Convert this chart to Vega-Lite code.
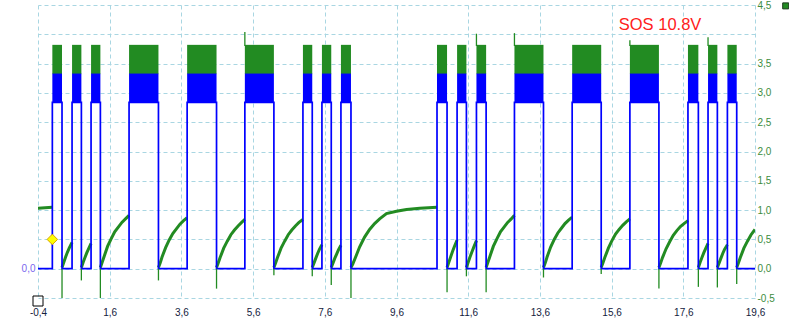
{
  "$schema": "https://vega.github.io/schema/vega-lite/v6.json",
  "width": 717,
  "height": 293,
  "autosize": {"type": "none"},
  "padding": {"left": 38, "top": 5, "right": 34, "bottom": 34},
  "background": "white",
  "config": {
    "view": {"stroke": null},
    "axis": {"domain": false, "ticks": false, "tickSize": 0, "labelFlush": false, "labelOverlap": false, "labelFont": "Liberation Sans", "labelFontSize": 10, "gridColor": "#a9d6e2", "gridDash": [4, 3], "gridWidth": 1}
  },
  "datasets": {
    "pulses": [
      {"on": 0.0, "off": 0.27}, {"on": 0.55, "off": 0.81}, {"on": 1.08, "off": 1.34},
      {"on": 2.14, "off": 2.96}, {"on": 3.76, "off": 4.58}, {"on": 5.37, "off": 6.18},
      {"on": 6.99, "off": 7.25}, {"on": 7.52, "off": 7.78}, {"on": 8.05, "off": 8.33},
      {"on": 10.73, "off": 11.01}, {"on": 11.29, "off": 11.55}, {"on": 11.83, "off": 12.10},
      {"on": 12.89, "off": 13.70}, {"on": 14.50, "off": 15.31}, {"on": 16.11, "off": 16.92},
      {"on": 17.73, "off": 18.02}, {"on": 18.29, "off": 18.55}, {"on": 18.83, "off": 19.09}
    ],
    "blue": [
      {"i": 0, "t": -0.4, "v": 0},
      {"i": 1, "t": 0.0, "v": 0}, {"i": 2, "t": 0.0, "v": 2.84}, {"i": 3, "t": 0.27, "v": 2.84}, {"i": 4, "t": 0.27, "v": 0},
      {"i": 5, "t": 0.55, "v": 0}, {"i": 6, "t": 0.55, "v": 2.84}, {"i": 7, "t": 0.81, "v": 2.84}, {"i": 8, "t": 0.81, "v": 0},
      {"i": 9, "t": 1.08, "v": 0}, {"i": 10, "t": 1.08, "v": 2.84}, {"i": 11, "t": 1.34, "v": 2.84}, {"i": 12, "t": 1.34, "v": 0},
      {"i": 13, "t": 2.14, "v": 0}, {"i": 14, "t": 2.14, "v": 2.84}, {"i": 15, "t": 2.96, "v": 2.84}, {"i": 16, "t": 2.96, "v": 0},
      {"i": 17, "t": 3.76, "v": 0}, {"i": 18, "t": 3.76, "v": 2.84}, {"i": 19, "t": 4.58, "v": 2.84}, {"i": 20, "t": 4.58, "v": 0},
      {"i": 21, "t": 5.37, "v": 0}, {"i": 22, "t": 5.37, "v": 2.84}, {"i": 23, "t": 6.18, "v": 2.84}, {"i": 24, "t": 6.18, "v": 0},
      {"i": 25, "t": 6.99, "v": 0}, {"i": 26, "t": 6.99, "v": 2.84}, {"i": 27, "t": 7.25, "v": 2.84}, {"i": 28, "t": 7.25, "v": 0},
      {"i": 29, "t": 7.52, "v": 0}, {"i": 30, "t": 7.52, "v": 2.84}, {"i": 31, "t": 7.78, "v": 2.84}, {"i": 32, "t": 7.78, "v": 0},
      {"i": 33, "t": 8.05, "v": 0}, {"i": 34, "t": 8.05, "v": 2.84}, {"i": 35, "t": 8.33, "v": 2.84}, {"i": 36, "t": 8.33, "v": 0},
      {"i": 37, "t": 10.73, "v": 0}, {"i": 38, "t": 10.73, "v": 2.84}, {"i": 39, "t": 11.01, "v": 2.84}, {"i": 40, "t": 11.01, "v": 0},
      {"i": 41, "t": 11.29, "v": 0}, {"i": 42, "t": 11.29, "v": 2.84}, {"i": 43, "t": 11.55, "v": 2.84}, {"i": 44, "t": 11.55, "v": 0},
      {"i": 45, "t": 11.83, "v": 0}, {"i": 46, "t": 11.83, "v": 2.84}, {"i": 47, "t": 12.10, "v": 2.84}, {"i": 48, "t": 12.10, "v": 0},
      {"i": 49, "t": 12.89, "v": 0}, {"i": 50, "t": 12.89, "v": 2.84}, {"i": 51, "t": 13.70, "v": 2.84}, {"i": 52, "t": 13.70, "v": 0},
      {"i": 53, "t": 14.50, "v": 0}, {"i": 54, "t": 14.50, "v": 2.84}, {"i": 55, "t": 15.31, "v": 2.84}, {"i": 56, "t": 15.31, "v": 0},
      {"i": 57, "t": 16.11, "v": 0}, {"i": 58, "t": 16.11, "v": 2.84}, {"i": 59, "t": 16.92, "v": 2.84}, {"i": 60, "t": 16.92, "v": 0},
      {"i": 61, "t": 17.73, "v": 0}, {"i": 62, "t": 17.73, "v": 2.84}, {"i": 63, "t": 18.02, "v": 2.84}, {"i": 64, "t": 18.02, "v": 0},
      {"i": 65, "t": 18.29, "v": 0}, {"i": 66, "t": 18.29, "v": 2.84}, {"i": 67, "t": 18.55, "v": 2.84}, {"i": 68, "t": 18.55, "v": 0},
      {"i": 69, "t": 18.83, "v": 0}, {"i": 70, "t": 18.83, "v": 2.84}, {"i": 71, "t": 19.09, "v": 2.84}, {"i": 72, "t": 19.09, "v": 0},
      {"i": 73, "t": 19.6, "v": 0}
    ],
    "green": [
      {"s": 0, "t": -0.4, "v": 1.03}, {"s": 0, "t": -0.2, "v": 1.04}, {"s": 0, "t": 0.0, "v": 1.05},
      {"s": 1, "t": 0.27, "v": 0.02}, {"s": 1, "t": 0.32, "v": 0.11}, {"s": 1, "t": 0.37, "v": 0.2}, {"s": 1, "t": 0.42, "v": 0.28}, {"s": 1, "t": 0.47, "v": 0.35}, {"s": 1, "t": 0.55, "v": 0.45},
      {"s": 2, "t": 0.81, "v": 0.02}, {"s": 2, "t": 0.86, "v": 0.11}, {"s": 2, "t": 0.91, "v": 0.19}, {"s": 2, "t": 0.96, "v": 0.27}, {"s": 2, "t": 1.01, "v": 0.34}, {"s": 2, "t": 1.08, "v": 0.43},
      {"s": 3, "t": 1.34, "v": 0.02}, {"s": 3, "t": 1.39, "v": 0.11}, {"s": 3, "t": 1.44, "v": 0.2}, {"s": 3, "t": 1.54, "v": 0.38}, {"s": 3, "t": 1.64, "v": 0.51}, {"s": 3, "t": 1.74, "v": 0.63}, {"s": 3, "t": 1.84, "v": 0.71}, {"s": 3, "t": 1.94, "v": 0.79}, {"s": 3, "t": 2.04, "v": 0.85}, {"s": 3, "t": 2.14, "v": 0.91},
      {"s": 4, "t": 2.96, "v": 0.02}, {"s": 4, "t": 3.01, "v": 0.10}, {"s": 4, "t": 3.06, "v": 0.2}, {"s": 4, "t": 3.16, "v": 0.36}, {"s": 4, "t": 3.26, "v": 0.49}, {"s": 4, "t": 3.36, "v": 0.6}, {"s": 4, "t": 3.46, "v": 0.68}, {"s": 4, "t": 3.56, "v": 0.76}, {"s": 4, "t": 3.66, "v": 0.82}, {"s": 4, "t": 3.76, "v": 0.87},
      {"s": 5, "t": 4.58, "v": 0.02}, {"s": 5, "t": 4.63, "v": 0.10}, {"s": 5, "t": 4.68, "v": 0.19}, {"s": 5, "t": 4.78, "v": 0.35}, {"s": 5, "t": 4.88, "v": 0.47}, {"s": 5, "t": 4.98, "v": 0.58}, {"s": 5, "t": 5.08, "v": 0.66}, {"s": 5, "t": 5.18, "v": 0.73}, {"s": 5, "t": 5.28, "v": 0.79}, {"s": 5, "t": 5.37, "v": 0.84},
      {"s": 6, "t": 6.18, "v": 0.02}, {"s": 6, "t": 6.23, "v": 0.10}, {"s": 6, "t": 6.28, "v": 0.19}, {"s": 6, "t": 6.38, "v": 0.35}, {"s": 6, "t": 6.48, "v": 0.47}, {"s": 6, "t": 6.58, "v": 0.58}, {"s": 6, "t": 6.68, "v": 0.66}, {"s": 6, "t": 6.78, "v": 0.73}, {"s": 6, "t": 6.88, "v": 0.79}, {"s": 6, "t": 6.99, "v": 0.84},
      {"s": 7, "t": 7.25, "v": 0.02}, {"s": 7, "t": 7.30, "v": 0.10}, {"s": 7, "t": 7.35, "v": 0.18}, {"s": 7, "t": 7.40, "v": 0.26}, {"s": 7, "t": 7.45, "v": 0.33}, {"s": 7, "t": 7.52, "v": 0.41},
      {"s": 8, "t": 7.78, "v": 0.02}, {"s": 8, "t": 7.83, "v": 0.10}, {"s": 8, "t": 7.88, "v": 0.18}, {"s": 8, "t": 7.93, "v": 0.25}, {"s": 8, "t": 7.98, "v": 0.32}, {"s": 8, "t": 8.05, "v": 0.40},
      {"s": 9, "t": 8.33, "v": 0.02}, {"s": 9, "t": 8.38, "v": 0.08}, {"s": 9, "t": 8.48, "v": 0.23}, {"s": 9, "t": 8.57, "v": 0.37}, {"s": 9, "t": 8.71, "v": 0.54}, {"s": 9, "t": 8.85, "v": 0.67}, {"s": 9, "t": 8.99, "v": 0.77}, {"s": 9, "t": 9.13, "v": 0.85}, {"s": 9, "t": 9.32, "v": 0.94}, {"s": 9, "t": 9.6, "v": 0.98}, {"s": 9, "t": 9.88, "v": 1.01}, {"s": 9, "t": 10.25, "v": 1.03}, {"s": 9, "t": 10.73, "v": 1.05},
      {"s": 10, "t": 11.01, "v": 0.02}, {"s": 10, "t": 11.06, "v": 0.11}, {"s": 10, "t": 11.11, "v": 0.2}, {"s": 10, "t": 11.16, "v": 0.29}, {"s": 10, "t": 11.21, "v": 0.37}, {"s": 10, "t": 11.29, "v": 0.49},
      {"s": 11, "t": 11.55, "v": 0.02}, {"s": 11, "t": 11.60, "v": 0.11}, {"s": 11, "t": 11.65, "v": 0.2}, {"s": 11, "t": 11.70, "v": 0.28}, {"s": 11, "t": 11.75, "v": 0.36}, {"s": 11, "t": 11.83, "v": 0.48},
      {"s": 12, "t": 12.10, "v": 0.02}, {"s": 12, "t": 12.15, "v": 0.11}, {"s": 12, "t": 12.20, "v": 0.2}, {"s": 12, "t": 12.30, "v": 0.38}, {"s": 12, "t": 12.40, "v": 0.51}, {"s": 12, "t": 12.50, "v": 0.63}, {"s": 12, "t": 12.60, "v": 0.71}, {"s": 12, "t": 12.70, "v": 0.79}, {"s": 12, "t": 12.80, "v": 0.85}, {"s": 12, "t": 12.89, "v": 0.91},
      {"s": 13, "t": 13.70, "v": 0.02}, {"s": 13, "t": 13.75, "v": 0.10}, {"s": 13, "t": 13.80, "v": 0.2}, {"s": 13, "t": 13.90, "v": 0.37}, {"s": 13, "t": 14.00, "v": 0.5}, {"s": 13, "t": 14.10, "v": 0.61}, {"s": 13, "t": 14.20, "v": 0.69}, {"s": 13, "t": 14.30, "v": 0.77}, {"s": 13, "t": 14.40, "v": 0.83}, {"s": 13, "t": 14.50, "v": 0.88},
      {"s": 14, "t": 15.31, "v": 0.02}, {"s": 14, "t": 15.36, "v": 0.10}, {"s": 14, "t": 15.41, "v": 0.19}, {"s": 14, "t": 15.51, "v": 0.35}, {"s": 14, "t": 15.61, "v": 0.48}, {"s": 14, "t": 15.71, "v": 0.59}, {"s": 14, "t": 15.81, "v": 0.67}, {"s": 14, "t": 15.91, "v": 0.74}, {"s": 14, "t": 16.01, "v": 0.80}, {"s": 14, "t": 16.11, "v": 0.85},
      {"s": 15, "t": 16.92, "v": 0.02}, {"s": 15, "t": 16.97, "v": 0.10}, {"s": 15, "t": 17.02, "v": 0.19}, {"s": 15, "t": 17.12, "v": 0.34}, {"s": 15, "t": 17.22, "v": 0.46}, {"s": 15, "t": 17.32, "v": 0.57}, {"s": 15, "t": 17.42, "v": 0.65}, {"s": 15, "t": 17.52, "v": 0.72}, {"s": 15, "t": 17.62, "v": 0.77}, {"s": 15, "t": 17.73, "v": 0.82},
      {"s": 16, "t": 18.02, "v": 0.02}, {"s": 16, "t": 18.07, "v": 0.11}, {"s": 16, "t": 18.12, "v": 0.19}, {"s": 16, "t": 18.17, "v": 0.27}, {"s": 16, "t": 18.22, "v": 0.34}, {"s": 16, "t": 18.29, "v": 0.43},
      {"s": 17, "t": 18.55, "v": 0.02}, {"s": 17, "t": 18.60, "v": 0.10}, {"s": 17, "t": 18.65, "v": 0.18}, {"s": 17, "t": 18.70, "v": 0.26}, {"s": 17, "t": 18.75, "v": 0.33}, {"s": 17, "t": 18.83, "v": 0.41},
      {"s": 18, "t": 19.09, "v": 0.02}, {"s": 18, "t": 19.14, "v": 0.10}, {"s": 18, "t": 19.19, "v": 0.19}, {"s": 18, "t": 19.29, "v": 0.35}, {"s": 18, "t": 19.39, "v": 0.47}, {"s": 18, "t": 19.49, "v": 0.58}, {"s": 18, "t": 19.6, "v": 0.67}
    ],
    "spikes": [
      {"t": 0.27, "lo": -0.5, "hi": 0}, {"t": 0.81, "lo": -0.2, "hi": 0}, {"t": 1.34, "lo": -0.5, "hi": 0},
      {"t": 2.96, "lo": -0.2, "hi": 0}, {"t": 4.58, "lo": -0.34, "hi": 0}, {"t": 6.18, "lo": -0.11, "hi": 0},
      {"t": 7.25, "lo": -0.13, "hi": 0}, {"t": 7.78, "lo": -0.28, "hi": 0}, {"t": 8.33, "lo": -0.5, "hi": 0},
      {"t": 11.01, "lo": -0.4, "hi": 0}, {"t": 11.55, "lo": -0.13, "hi": 0}, {"t": 12.10, "lo": -0.4, "hi": 0},
      {"t": 13.70, "lo": -0.15, "hi": 0}, {"t": 15.31, "lo": -0.09, "hi": 0}, {"t": 16.92, "lo": -0.34, "hi": 0},
      {"t": 18.02, "lo": -0.31, "hi": 0}, {"t": 18.55, "lo": -0.32, "hi": 0}, {"t": 19.09, "lo": -0.26, "hi": 0},
      {"t": 5.37, "lo": 3.8, "hi": 4.04}, {"t": 11.83, "lo": 3.8, "hi": 4.01}, {"t": 12.89, "lo": 3.8, "hi": 4.02},
      {"t": 16.11, "lo": 3.8, "hi": 3.9}, {"t": 18.29, "lo": 3.8, "hi": 3.95}
    ]
  },
  "resolve": {"axis": {"y": "independent"}},
  "layer": [
    {
      "data": {"name": "green"},
      "mark": {"type": "line", "color": "#228b22", "strokeWidth": 3, "clip": true},
      "encoding": {
        "x": {"field": "t", "type": "quantitative", "title": null,
              "scale": {"domain": [-0.4, 19.6], "nice": false, "zero": false},
              "axis": {"values": [-0.4, 1.6, 3.6, 5.6, 7.6, 9.6, 11.6, 13.6, 15.6, 17.6, 19.6], "grid": true, "labelFlush": false,
                       "labelExpr": "replace(datum.value + '', '.', ',')", "labelPadding": 9, "labelColor": "#14213d", "labelFontSize": 10}},
        "y": {"field": "v", "type": "quantitative", "title": null,
              "scale": {"domain": [-0.5, 4.5], "nice": false, "zero": false},
              "axis": {"orient": "right", "values": [-0.5, 0, 0.5, 1, 1.5, 2, 2.5, 3, 3.5, 4, 4.5], "grid": true, "labelFlush": false,
                       "labelExpr": "datum.value == 4 ? '' : (datum.value == floor(datum.value) ? datum.value + ',0' : replace(datum.value + '', '.', ','))",
                       "labelPadding": 2, "labelColor": "#3c8c3c", "labelFontSize": 10}},
        "detail": {"field": "s"}
      }
    },
    {
      "data": {"name": "blue"},
      "mark": {"type": "line", "color": "#0000ff", "strokeWidth": 1.7},
      "encoding": {
        "x": {"field": "t", "type": "quantitative", "title": null},
        "y": {"field": "v", "type": "quantitative", "title": null,
              "axis": {"orient": "left", "values": [0], "grid": false, "labelExpr": "'0,0'", "labelPadding": 3, "labelColor": "#7b68ee", "labelFontSize": 10}},
        "order": {"field": "i"}
      }
    },
    {
      "data": {"name": "pulses"},
      "mark": {"type": "rect", "color": "#228b22"},
      "encoding": {
        "x": {"field": "on", "type": "quantitative", "title": null},
        "x2": {"field": "off"},
        "y": {"datum": 3.32, "type": "quantitative", "axis": null},
        "y2": {"datum": 3.82}
      }
    },
    {
      "data": {"name": "pulses"},
      "mark": {"type": "rect", "color": "#0000ff"},
      "encoding": {
        "x": {"field": "on", "type": "quantitative", "title": null},
        "x2": {"field": "off"},
        "y": {"datum": 2.83, "type": "quantitative", "axis": null},
        "y2": {"datum": 3.33}
      }
    },
    {
      "data": {"name": "spikes"},
      "mark": {"type": "rule", "color": "#228b22", "strokeWidth": 1.3},
      "encoding": {
        "x": {"field": "t", "type": "quantitative", "title": null},
        "y": {"field": "lo", "type": "quantitative", "axis": null},
        "y2": {"field": "hi"}
      }
    },
    {
      "data": {"values": [{"t": 0, "v": 0.5}]},
      "mark": {"type": "point", "shape": "diamond", "size": 110, "filled": true, "fill": "#ffff00", "stroke": "#d9a400", "strokeWidth": 1, "opacity": 1},
      "encoding": {
        "x": {"field": "t", "type": "quantitative", "title": null},
        "y": {"field": "v", "type": "quantitative", "axis": null}
      }
    },
    {
      "data": {"values": [{"label": "SOS 10.8V"}]},
      "mark": {"type": "text", "align": "left", "baseline": "alphabetic", "font": "Liberation Sans", "fontSize": 16.5, "color": "#ff2020"},
      "encoding": {
        "x": {"datum": 15.8, "type": "quantitative"},
        "y": {"datum": 4.08, "type": "quantitative", "axis": null},
        "text": {"field": "label"}
      }
    },
    {
      "data": {"values": [{"k": "legend"}]},
      "mark": {"type": "point", "shape": "square", "size": 36, "filled": true, "fill": "#228b22", "stroke": "#1e3a1e", "strokeWidth": 1, "opacity": 1},
      "encoding": {
        "x": {"datum": 20.456, "type": "quantitative"},
        "y": {"datum": 4.485, "type": "quantitative", "axis": null}
      }
    },
    {
      "data": {"values": [{"k": "origin"}]},
      "mark": {"type": "point", "shape": "square", "size": 100, "filled": false, "stroke": "#000000", "strokeWidth": 1, "opacity": 1, "yOffset": 3},
      "encoding": {
        "x": {"datum": -0.4, "type": "quantitative"},
        "y": {"datum": -0.5, "type": "quantitative", "axis": null}
      }
    }
  ]
}
